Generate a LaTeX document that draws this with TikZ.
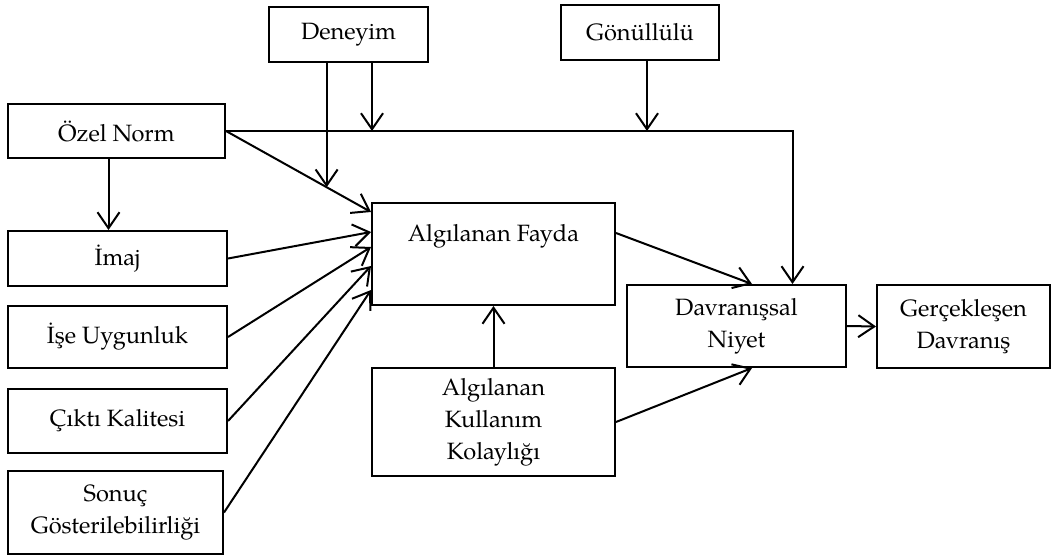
\documentclass[tikz,border=0pt]{standalone}
\usepackage{fontspec}
\setmainfont{TeX Gyre Pagella}
\usetikzlibrary{arrows.meta}

\begin{document}
\begin{tikzpicture}[x=0.5pt,y=-0.5pt,font=\fontsize{11.8}{16}\selectfont,
    kutu/.style={draw, line width=1pt, inner sep=0pt, align=center},
    ok/.style={-{Straight Barb[length=8pt,width=11pt,line width=1pt]}, line width=1pt}]
  \useasboundingbox (0,0) rectangle (1058,556);
  \node[kutu, minimum width=79.5pt, minimum height=27.5pt] (deneyim) at (348.5,34.5) {Deneyim};
  \node[kutu, minimum width=79pt, minimum height=27.5pt] (gonullu) at (640,32.5) {Gönüllülü};
  \node[kutu, minimum width=108.5pt, minimum height=27pt] (ozel) at (116.5,131) {Özel Norm};
  \node[kutu, minimum width=109.5pt, minimum height=27.5pt] (imaj) at (117.5,258.5) {İmaj};
  \node[kutu, minimum width=109.5pt, minimum height=31pt] (ise) at (117.5,337) {İşe Uygunluk};
  \node[kutu, minimum width=109.5pt, minimum height=32pt] (cikti) at (117.5,421) {Çıktı Kalitesi};
  \node[kutu, minimum width=107.5pt, minimum height=41.5pt] (sonuc) at (115.5,512.5) {Sonuç\\Gösterilebilirliği};
  \node[kutu, minimum width=121.5pt, minimum height=51pt,
    label={[anchor=center, yshift=-17pt]north:Algılanan Fayda}] (fayda) at (493.5,254) {};
  \node[kutu, minimum width=121.5pt, minimum height=54pt] (kolay) at (493.5,422) {Algılanan\\Kullanım\\Kolaylığı};
  \node[kutu, minimum width=109.5pt, minimum height=41pt] (niyet) at (736.5,326) {Davranışsal\\Niyet};
  \node[kutu, minimum width=86.5pt, minimum height=41.5pt] (gercek) at (963.5,326.5) {Gerçekleşen\\Davranış};

  \draw[ok] (ozel.east) -- coordinate[pos=0.694] (m1) ([yshift=-5pt]fayda.north west);
  \draw[ok] (ozel.east) -| ([xshift=28pt]niyet.north);
  \draw[ok] (deneyim.south -| m1) -- (m1);
  \draw[ok] ([xshift=11.75pt]deneyim.south) -- ([xshift=11.75pt]deneyim.south |- ozel.east);
  \draw[ok] ([xshift=3.5pt]gonullu.south) -- ([xshift=3.5pt]gonullu.south |- ozel.east);
  \draw[ok] ([xshift=-4pt]ozel.south) -- ([xshift=-4pt]ozel.south |- imaj.north);
  \draw[ok] (imaj.east) -- ([yshift=11pt]fayda.west);
  \draw[ok] (ise.east) -- ([yshift=3.5pt]fayda.west);
  \draw[ok] (cikti.east) -- ([yshift=-6pt]fayda.west);
  \draw[ok] (sonuc.east) -- ([yshift=-18pt]fayda.west);
  \draw[ok] ([yshift=10.5pt]fayda.east) -- ([xshift=7.75pt]niyet.north);
  \draw[ok] (kolay.north) -- (fayda.south);
  \draw[ok] (kolay.east) -- ([xshift=7.75pt]niyet.south);
  \draw[ok] (niyet.east) -- (gercek.west);
\end{tikzpicture}
\end{document}
